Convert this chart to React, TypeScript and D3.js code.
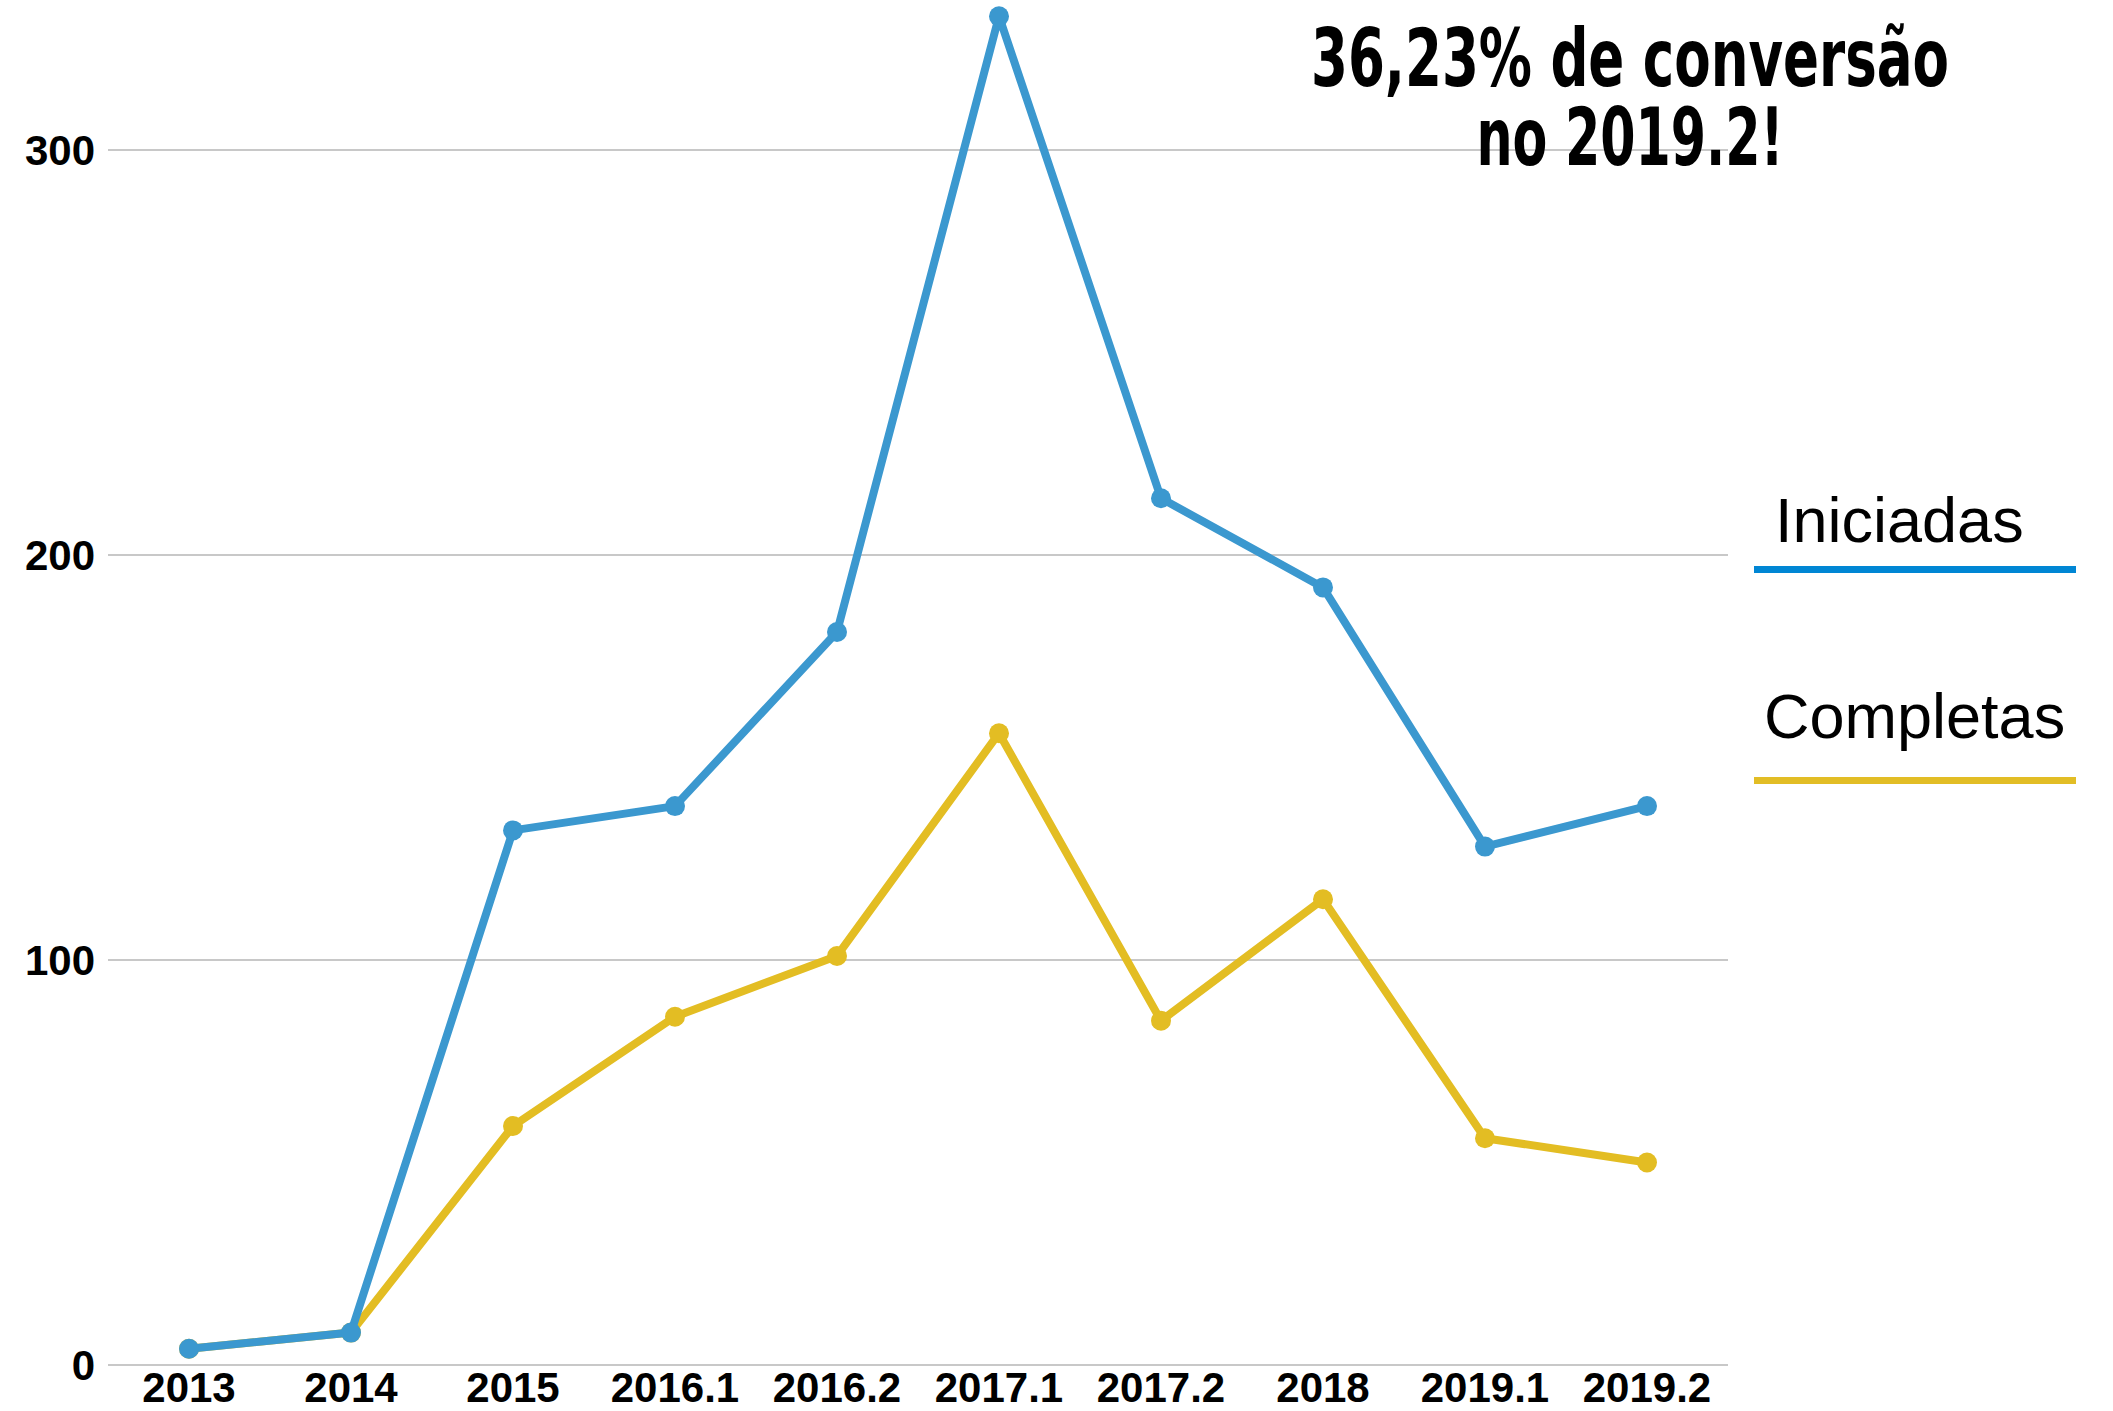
import React from "react";
import * as d3 from "d3";

const categories = ["2013", "2014", "2015", "2016.1", "2016.2", "2017.1", "2017.2", "2018", "2019.1", "2019.2"];
const iniciadas = [4, 8, 132, 138, 181, 333, 214, 192, 128, 138];
const completas = [4, 8, 59, 86, 101, 156, 85, 115, 56, 50];
const yTicks = [0, 100, 200, 300];
const titleLines = ["36,23% de conversão", "no 2019.2!"];
const legendItems = [
  { label: "Iniciadas", color: "#0086d4" },
  { label: "Completas", color: "#e2bd25" },
];

const W = 2113;
const H = 1411;
const BLUE = "#3b98cf";
const YELLOW = "#e3bd23";

export default function App() {
  const x = d3.scalePoint<string>().domain(categories).range([189, 1647]);
  const y = d3.scaleLinear().domain([0, 300]).range([1365, 150]);
  const line = d3
    .line<number>()
    .x((_, i) => x(categories[i]) as number)
    .y((d) => y(d));

  const series = [
    { values: completas, color: YELLOW },
    { values: iniciadas, color: BLUE },
  ];

  return (
    <svg
      width={W}
      height={H}
      style={{ position: "absolute", left: 0, top: 0, background: "#fff" }}
      fontFamily="'Liberation Sans', Arial, sans-serif"
    >
      <rect width={W} height={H} fill="#fff" />
      {yTicks.map((t) => (
        <g key={t}>
          <line x1={108} x2={1728} y1={y(t)} y2={y(t)} stroke="#c8c8c8" strokeWidth={2} />
          <text
            x={95}
            y={y(t)}
            textAnchor="end"
            dominantBaseline="central"
            fontSize={42}
            fontWeight="bold"
            fill="#000"
          >
            {t}
          </text>
        </g>
      ))}
      {categories.map((c) => (
        <text
          key={c}
          x={x(c)}
          y={1402}
          textAnchor="middle"
          fontSize={42}
          fontWeight="bold"
          fill="#000"
        >
          {c}
        </text>
      ))}
      {series.map((s, si) => (
        <g key={si}>
          <path d={line(s.values) || ""} fill="none" stroke={s.color} strokeWidth={8} strokeLinejoin="round" />
          {s.values.map((v, i) => (
            <circle key={i} cx={x(categories[i])} cy={y(v)} r={10} fill={s.color} />
          ))}
        </g>
      ))}
      <g fontFamily="'Liberation Sans Narrow', 'DejaVu Sans Condensed', sans-serif" fontWeight="bold">
        <text x={1630} y={86} textAnchor="middle" fontSize={80} textLength={638} lengthAdjust="spacingAndGlyphs" fill="#000">
          {titleLines[0]}
        </text>
        <text x={1630} y={165} textAnchor="middle" fontSize={80} textLength={307} lengthAdjust="spacingAndGlyphs" fill="#000">
          {titleLines[1]}
        </text>
      </g>
      {legendItems.map((it, i) => (
        <g key={it.label}>
          <text x={i === 0 ? 1775 : 1764} y={542 + i * 196} fontSize={63} fill="#000">
            {it.label}
          </text>
          <line x1={1754} x2={2076} y1={569.5 + i * 211} y2={569.5 + i * 211} stroke={it.color} strokeWidth={7} />
        </g>
      ))}
    </svg>
  );
}
